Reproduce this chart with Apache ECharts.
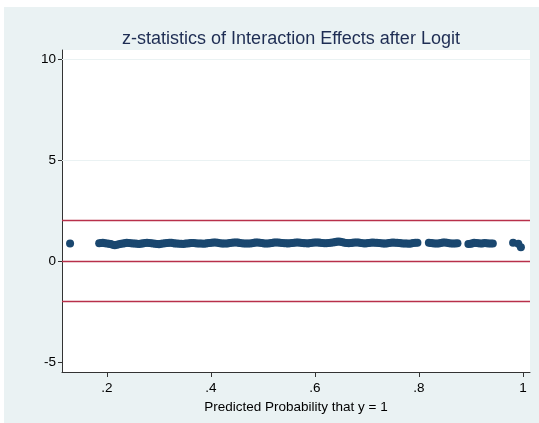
<!DOCTYPE html>
<html>
<head>
<meta charset="utf-8">
<script src="https://cdn.jsdelivr.net/npm/echarts@6/dist/echarts.min.js"></script>
<style>
  html, body { margin: 0; padding: 0; background: #fff; }
  #chart { width: 539px; height: 423px; }
</style>
</head>
<body>
<div id="chart"></div>
<script>
// predicted probability (x) and z-statistic (y)
const probX = [
  0.129,
  0.185, 0.189, 0.192, 0.196, 0.2, 0.204, 0.207, 0.211, 0.215, 0.219,
  0.223, 0.227, 0.231, 0.234, 0.238, 0.242, 0.246, 0.25, 0.254, 0.258,
  0.262, 0.266, 0.269, 0.273, 0.277, 0.281, 0.285, 0.289, 0.293, 0.297,
  0.3, 0.304, 0.308, 0.312, 0.316, 0.32, 0.324, 0.328, 0.331, 0.335,
  0.339, 0.343, 0.347, 0.351, 0.355, 0.359, 0.362, 0.366, 0.37, 0.374,
  0.378, 0.382, 0.386, 0.39, 0.393, 0.397, 0.401, 0.405, 0.409, 0.413,
  0.417, 0.421, 0.424, 0.428, 0.432, 0.436, 0.44, 0.444, 0.448, 0.452,
  0.455, 0.459, 0.463, 0.467, 0.471, 0.475, 0.479, 0.483, 0.486, 0.49,
  0.494, 0.498, 0.502, 0.506, 0.51, 0.514, 0.517, 0.521, 0.525, 0.529,
  0.533, 0.537, 0.541, 0.545, 0.548, 0.552, 0.556, 0.56, 0.564, 0.568,
  0.572, 0.576, 0.579, 0.583, 0.587, 0.591, 0.595, 0.599, 0.603, 0.607,
  0.61, 0.614, 0.618, 0.622, 0.626, 0.63, 0.634, 0.638, 0.641, 0.645,
  0.649, 0.653, 0.657, 0.661, 0.665, 0.669, 0.672, 0.676, 0.68, 0.684,
  0.688, 0.692, 0.696, 0.7, 0.703, 0.707, 0.711, 0.715, 0.719, 0.723,
  0.727, 0.731, 0.734, 0.738, 0.742, 0.746, 0.75, 0.754, 0.758, 0.762,
  0.765, 0.769, 0.773, 0.777, 0.781, 0.785, 0.789, 0.793, 0.797,
  0.819, 0.823, 0.826, 0.83, 0.834, 0.838, 0.842, 0.846, 0.85, 0.854, 0.858, 0.862, 0.866, 0.87, 0.874,
  0.895, 0.899, 0.902, 0.906, 0.91, 0.914, 0.918, 0.922, 0.926, 0.93, 0.934, 0.938, 0.942,
  0.981, 0.991, 0.996
]
const zStat = [
  0.86,
  0.88, 0.89, 0.9, 0.88, 0.86, 0.85, 0.84, 0.8, 0.78, 0.8,
  0.83, 0.85, 0.87, 0.88, 0.9, 0.89, 0.88, 0.87, 0.86, 0.85,
  0.84, 0.86, 0.87, 0.89, 0.9, 0.89, 0.88, 0.86, 0.85, 0.84,
  0.83, 0.85, 0.86, 0.88, 0.89, 0.9, 0.9, 0.88, 0.87, 0.86,
  0.85, 0.85, 0.84, 0.86, 0.87, 0.88, 0.89, 0.89, 0.88, 0.87,
  0.86, 0.86, 0.85, 0.87, 0.88, 0.89, 0.9, 0.91, 0.91, 0.9,
  0.88, 0.87, 0.86, 0.87, 0.87, 0.89, 0.9, 0.91, 0.92, 0.91,
  0.89, 0.88, 0.87, 0.87, 0.86, 0.87, 0.88, 0.9, 0.91, 0.91,
  0.9, 0.89, 0.87, 0.87, 0.86, 0.88, 0.89, 0.91, 0.92, 0.91,
  0.9, 0.89, 0.88, 0.88, 0.87, 0.88, 0.89, 0.9, 0.91, 0.91,
  0.9, 0.89, 0.88, 0.88, 0.87, 0.89, 0.9, 0.91, 0.92, 0.91,
  0.9, 0.89, 0.88, 0.88, 0.89, 0.9, 0.91, 0.93, 0.95, 0.97,
  0.95, 0.93, 0.9, 0.89, 0.88, 0.89, 0.9, 0.91, 0.92, 0.91,
  0.89, 0.88, 0.87, 0.88, 0.89, 0.9, 0.91, 0.9, 0.9, 0.89,
  0.88, 0.87, 0.86, 0.87, 0.89, 0.9, 0.91, 0.9, 0.9, 0.89,
  0.88, 0.87, 0.87, 0.86, 0.85, 0.87, 0.89, 0.9, 0.9,
  0.9, 0.89, 0.88, 0.87, 0.86, 0.87, 0.89, 0.91, 0.92, 0.9, 0.88, 0.87, 0.86, 0.87, 0.88,
  0.84, 0.85, 0.87, 0.9, 0.89, 0.88, 0.86, 0.87, 0.89, 0.88, 0.87, 0.86, 0.87,
  0.9, 0.85, 0.68
]
const refLines = [2, 0, -2]
const yTicks = [-5, 0, 5, 10]
const xTicks = [0.2, 0.4, 0.6, 0.8, 1]

const chart = echarts.init(document.getElementById('chart'))
const font = '"Liberation Sans", Arial, sans-serif'

const option = {
  backgroundColor: '#fff',
  animation: false,
  graphic: [{
    type: 'rect',
    z: -10,
    shape: { x: 4, y: 7, width: 545, height: 430 },
    style: { fill: '#eaf2f3' }
  }],
  title: {
    text: 'z-statistics of Interaction Effects after Logit',
    left: 286,
    textAlign: 'center',
    top: 25,
    textStyle: { color: '#1e2d53', fontSize: 18, fontWeight: 'normal', fontFamily: font }
  },
  grid: {
    left: 62, right: 9, top: 50, bottom: 51,
    show: true, backgroundColor: '#fff', borderWidth: 0
  },
  xAxis: {
    type: 'value',
    min: 0.1135, max: 1.0135,
    name: 'Predicted Probability that y = 1',
    nameLocation: 'middle',
    nameGap: 25,
    nameTextStyle: { color: '#000', fontSize: 13.5, fontFamily: font },
    axisLine: { show: true, onZero: false, lineStyle: { color: '#333', width: 1 } },
    axisTick: { show: true, length: 5, lineStyle: { color: '#333' }, customValues: xTicks },
    axisLabel: {
      color: '#000', fontSize: 13.5, fontFamily: font, margin: 9,
      customValues: xTicks,
      formatter: v => v === 1 ? '1' : String(v).replace(/^0/, '')
    },
    splitLine: { show: false }
  },
  yAxis: {
    type: 'value',
    min: -5.5, max: 10.45,
    axisLine: { show: true, onZero: false, lineStyle: { color: '#333', width: 1 } },
    axisTick: { show: true, length: 4, lineStyle: { color: '#333' }, customValues: yTicks },
    axisLabel: { color: '#000', fontSize: 13.5, fontFamily: font, margin: 6, customValues: yTicks },
    splitLine: { show: false }
  },
  series: [
    {
      type: 'line',
      data: [],
      markLine: {
        silent: true,
        symbol: 'none',
        label: { show: false },
        lineStyle: { color: '#eaf2f3', width: 1, type: 'solid' },
        data: [{ yAxis: 5 }, { yAxis: 10 }]
      }
    },
    {
      type: 'scatter',
      data: probX.map((x, i) => [x, zStat[i]]),
      symbolSize: 8,
      itemStyle: { color: '#1a476f', opacity: 1 },
      z: 3,
      markLine: {
        silent: true,
        symbol: 'none',
        label: { show: false },
        lineStyle: { color: '#b8304a', width: 1.3, type: 'solid' },
        data: refLines.map(v => ({ yAxis: v }))
      }
    }
  ]
}
chart.setOption(option)
</script>
</body>
</html>
